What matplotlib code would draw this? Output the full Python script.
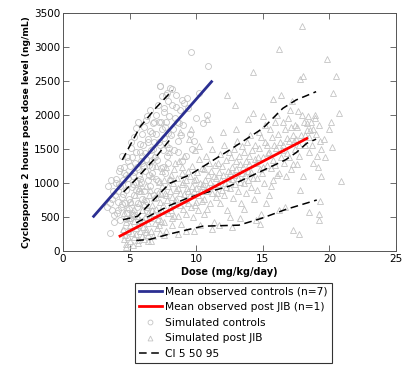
import matplotlib
matplotlib.use("Agg")
import matplotlib.pyplot as plt
from matplotlib.lines import Line2D

# ---------------- data ----------------
# Simulated controls (open circles)
ctrl_dose = [
    3.4, 3.5, 3.6, 3.7, 3.8, 3.9, 3.95, 3.5, 3.75, 3.85, 3.3, 3.65,
    4.0, 4.05, 4.1, 4.15, 4.2, 4.25, 4.3, 4.35, 4.4, 4.45,
    4.5, 4.55, 4.6, 4.65, 4.7, 4.75, 4.8, 4.85, 4.9, 4.95,
    4.1, 4.3, 4.5, 4.7, 4.9, 4.2, 4.4, 4.6, 4.8, 4.95,
    5.0, 5.05, 5.1, 5.15, 5.2, 5.25, 5.3, 5.35, 5.4, 5.45,
    5.5, 5.55, 5.6, 5.65, 5.7, 5.75, 5.8, 5.85, 5.9, 5.95,
    5.05, 5.15, 5.25, 5.35, 5.45, 5.55, 5.65, 5.75, 5.85, 5.95,
    5.1, 5.3, 5.5, 5.7, 5.9,
    6.0, 6.05, 6.1, 6.15, 6.2, 6.25, 6.3, 6.35, 6.4, 6.45,
    6.5, 6.55, 6.6, 6.65, 6.7, 6.75, 6.8, 6.85, 6.9, 6.95,
    6.05, 6.15, 6.25, 6.35, 6.45, 6.55, 6.65, 6.75, 6.85, 6.95,
    6.3, 6.7,
    7.0, 7.05, 7.1, 7.15, 7.2, 7.25, 7.3, 7.35, 7.4, 7.45,
    7.5, 7.55, 7.6, 7.65, 7.7, 7.75, 7.8, 7.85, 7.9, 7.95,
    7.05, 7.2, 7.35, 7.5, 7.65, 7.8, 7.95, 7.26, 7.6, 7.9,
    8.0, 8.1, 8.2, 8.3, 8.4, 8.5, 8.6, 8.7, 8.8, 8.9,
    8.05, 8.25, 8.45, 8.65, 8.85, 8.15, 8.55, 8.95,
    9.0, 9.2, 9.4, 9.6, 9.8, 10.0, 10.2, 10.5, 9.1, 9.5,
    9.7, 10.9, 10.8, 9.3,
]
ctrl_level = [
    950, 270, 1050, 610, 420, 820, 1000, 700, 880, 530, 640, 760,
    1060, 560, 880, 720, 1180, 450, 960, 640, 1400, 800,
    1050, 300, 1240, 700, 900, 1120, 560, 1320, 980, 760,
    610, 1220, 840, 470, 1080, 990, 690, 1150, 1380, 620,
    1250, 720, 1520, 940, 560, 1100, 1680, 830, 1300, 1010,
    1450, 640, 1200, 1900, 880, 1580, 1060, 1330, 760, 1720,
    480, 1380, 980, 1160, 1810, 1240, 700, 1460, 1020, 1290,
    1600, 520, 890, 1120, 1400,
    1560, 880, 1820, 1180, 1350, 740, 1990, 1050, 1640, 1270,
    2080, 960, 1480, 1730, 1150, 1880, 820, 1600, 1380, 2000,
    1250, 1440, 1920, 1610, 1120, 1760, 1340, 1500, 1900, 1060,
    590, 1230,
    1720, 1340, 2150, 1030, 1900, 2420, 1560, 1220, 2280, 1790,
    1480, 2050, 1660, 1150, 2300, 1900, 1400, 2200, 1740, 1980,
    880, 1610, 1890, 1240, 1820, 2320, 1520, 2420, 2100, 1300,
    2390, 1700, 2150, 1480, 1950, 2120, 1620, 1880, 2080, 1330,
    1040, 1800, 2300, 1450, 1700, 2380, 1900, 2220,
    1850, 1400, 2100, 2920, 1620, 1950, 2330, 1880, 2180, 1720,
    1500, 2716, 2000, 2250,
]

# Simulated post JIB (open triangles)
jib_dose = [
    4.5, 4.55, 4.6, 4.65, 4.7, 4.75, 4.8, 4.85, 4.9, 4.95,
    5.0, 5.05, 5.1, 5.15, 5.2, 5.25, 5.3, 5.35, 5.4, 5.45, 4.7, 5.3,
    5.5, 5.55, 5.6, 5.65, 5.7, 5.75, 5.8, 5.85, 5.9, 5.95,
    6.0, 6.05, 6.1, 6.15, 6.2, 6.25, 6.3, 6.35, 6.4, 6.45,
    5.6, 5.8, 6.0, 6.2, 6.4, 5.7, 6.1, 6.35,
    6.5, 6.55, 6.6, 6.65, 6.7, 6.75, 6.8, 6.85, 6.9, 6.95,
    7.0, 7.05, 7.1, 7.15, 7.2, 7.25, 7.3, 7.35, 7.4, 7.45,
    6.6, 6.8, 7.0, 7.2, 7.4, 6.7, 7.1, 7.35,
    7.5, 7.55, 7.6, 7.65, 7.7, 7.75, 7.8, 7.85, 7.9, 7.95,
    8.0, 8.05, 8.1, 8.15, 8.2, 8.25, 8.3, 8.35, 8.4, 8.45,
    7.6, 7.8, 8.0, 8.2, 8.4, 7.7, 8.1, 8.3,
    8.5, 8.55, 8.6, 8.65, 8.7, 8.75, 8.8, 8.85, 8.9, 8.95,
    9.0, 9.05, 9.1, 9.15, 9.2, 9.25, 9.3, 9.35, 9.4, 9.45,
    8.6, 8.8, 9.0, 9.2, 9.4, 8.95,
    9.5, 9.55, 9.6, 9.65, 9.7, 9.75, 9.8, 9.85, 9.9, 9.95,
    10.0, 10.05, 10.1, 10.15, 10.2, 10.25, 10.3, 10.35, 10.4, 10.45,
    9.6, 9.8, 10.0, 10.2, 10.4, 9.9,
    10.5, 10.55, 10.6, 10.65, 10.7, 10.75, 10.8, 10.85, 10.9, 10.95,
    11.0, 11.05, 11.1, 11.15, 11.2, 11.25, 11.3, 11.35, 11.4, 11.45,
    10.8, 11.0, 11.2, 10.6,
    11.5, 11.55, 11.6, 11.65, 11.7, 11.75, 11.8, 11.85, 11.9, 11.95,
    12.0, 12.05, 12.1, 12.15, 12.2, 12.25, 12.3, 12.35, 12.4, 12.45,
    11.7, 12.0, 12.3, 12.5,
    12.5, 12.55, 12.6, 12.65, 12.7, 12.75, 12.8, 12.85, 12.9, 12.95,
    13.0, 13.05, 13.1, 13.15, 13.2, 13.25, 13.3, 13.35, 13.4, 13.45,
    12.7, 13.0, 13.3, 12.9,
    13.5, 13.55, 13.6, 13.65, 13.7, 13.75, 13.8, 13.85, 13.9, 13.95,
    14.0, 14.05, 14.1, 14.15, 14.2, 14.25, 14.3, 14.35, 14.4, 14.45,
    13.9, 14.3, 14.5, 13.6,
    14.5, 14.6, 14.7, 14.8, 14.9, 15.0, 15.1, 15.2, 15.3, 15.4,
    14.55, 14.75, 14.95, 15.15, 15.35, 15.45, 14.65, 14.85, 15.05, 15.25,
    15.0, 14.8,
    15.5, 15.6, 15.7, 15.8, 15.9, 16.0, 16.1, 16.2, 16.3, 16.4,
    15.55, 15.75, 15.95, 16.15, 16.35, 15.65, 15.85, 16.05, 16.25, 16.45,
    15.8, 16.2,
    16.5, 16.6, 16.7, 16.8, 16.9, 17.0, 17.1, 17.2, 17.3, 17.4,
    16.55, 16.75, 16.95, 17.15, 17.35, 16.65, 16.85, 17.05, 17.25, 17.45,
    17.5, 17.6, 17.7, 17.8, 17.9, 18.0, 18.1, 18.2, 18.3, 18.4,
    17.55, 17.75, 17.95, 18.15, 18.35, 17.97, 18.0, 17.8, 18.45, 17.65,
    18.5, 18.6, 18.7, 18.8, 18.9, 19.0, 19.1, 19.2, 19.3, 19.4,
    18.55, 18.75, 18.95, 19.15, 19.35, 19.25,
    19.2, 18.5, 19.3, 17.7, 17.3,
    19.8, 20.5, 20.3, 20.7, 20.2, 20.9, 19.6, 20.0, 19.7, 20.1,
]
jib_level = [
    320, 180, 560, 240, 420, 100, 650, 300, 200, 480,
    380, 140, 720, 260, 550, 90, 440, 200, 820, 340, 60, 620,
    250, 520, 380, 160, 700, 300, 460, 880, 220, 600,
    350, 760, 180, 500, 960, 280, 640, 410, 240, 820,
    120, 1000, 450, 330, 560, 930, 690, 150,
    480, 900, 300, 680, 1100, 220, 560, 780, 410, 1250,
    620, 340, 860, 530, 1020, 260, 720, 440, 950, 590,
    150, 1400, 800, 380, 1180, 610, 470, 840,
    680, 1050, 420, 860, 300, 1240, 750, 560, 960, 1450,
    640, 880, 1120, 380, 790, 1000, 520, 700, 1300, 900,
    230, 1580, 1060, 480, 740, 820, 600, 1200,
    760, 1080, 520, 920, 1320, 680, 860, 400, 1150, 980,
    620, 840, 1400, 750, 1050, 300, 920, 1180, 700, 1650,
    250, 1750, 1010, 540, 880, 1240,
    820, 1100, 640, 960, 1250, 500, 880, 1050, 1480, 720,
    930, 1160, 600, 820, 1350, 1000, 380, 880, 1220, 740,
    1800, 290, 1060, 1550, 960, 680,
    980, 1200, 760, 1050, 1400, 880, 620, 1120, 940, 1300,
    1020, 700, 1180, 850, 1500, 960, 1100, 420, 1260, 800,
    1941, 1650, 330, 540,
    1080, 860, 1300, 980, 1160, 700, 1420, 1040, 900, 1250,
    1120, 1560, 820, 1000, 1340, 940, 600, 1180, 1070, 1460,
    380, 1750, 2299, 500,
    1150, 920, 1380, 1060, 1240, 780, 1500, 1120, 980, 1320,
    1200, 1620, 880, 1080, 1400, 1010, 1280, 700, 1150, 1550,
    360, 1800, 480, 2150,
    1240, 1000, 1460, 1120, 1320, 860, 1600, 1180, 1050, 1400,
    1280, 1700, 940, 1160, 1480, 1080, 2628, 760, 1350, 1560,
    1946, 2029, 450, 620,
    1300, 1080, 1520, 1200, 1680, 1380, 1000, 1600, 1260, 1440,
    900, 1750, 1140, 1860, 1560, 820, 1380, 550, 1240, 700,
    1980, 400,
    1450, 1220, 1680, 1340, 1900, 1520, 1120, 2970, 1600, 1380,
    1800, 1040, 1260, 1720, 2299, 960, 1560, 2000, 1150, 1480,
    2235, 600,
    1560, 1300, 1800, 1440, 1960, 1620, 1200, 2210, 1700, 1500,
    1900, 1100, 1380, 1820, 1620, 640, 1660, 2080, 1280, 1860,
    1640, 1820, 1400, 2529, 1700, 2569, 1900, 1560, 1780, 1980,
    1280, 1560, 2000, 1700, 1880, 3313, 1100, 900, 1460, 2060,
    1680, 1900, 1560, 1800, 2000, 1720, 1400, 1860, 1620, 1500,
    1780, 1300, 1950, 1240, 1100, 550,
    456, 578, 740, 250, 309,
    2828, 2569, 2323, 2029, 1534, 1034, 1650, 1800, 1380, 1900,
]

# Mean observed lines
ctrl_mean_dose = [2.3, 11.15]
ctrl_mean_level = [510, 2490]
jib_mean_dose = [4.28, 18.3]
jib_mean_level = [220, 1655]

# CI 5 50 95 curves
ci_ctrl_hi_dose = [4.45, 5.3, 5.8, 7.0, 8.2]
ci_ctrl_hi_level = [1340, 1650, 1830, 2110, 2360]
ci_ctrl_mid_dose = [4.55, 5.5, 6.8, 8.2]
ci_ctrl_mid_level = [870, 1060, 1340, 1680]
ci_jib_hi_dose = [4.5, 5.6, 8.0, 9.5, 12.5, 15.0, 16.5, 17.5, 19.0]
ci_jib_hi_level = [460, 510, 995, 1118, 1485, 1804, 2098, 2221, 2343]
ci_jib_mid_dose = [5.5, 8.0, 9.5, 12.5, 16.7, 17.5, 18.3, 19.0]
ci_jib_mid_level = [415, 670, 790, 955, 1340, 1446, 1584, 1645]
ci_jib_lo_dose = [5.5, 6.5, 8.0, 9.5, 10.5, 13.2, 14.9, 16.7, 19.05]
ci_jib_lo_level = [155, 170, 250, 320, 365, 380, 480, 610, 750]

x_ticks = [0, 5, 10, 15, 20, 25]
y_ticks = [0, 500, 1000, 1500, 2000, 2500, 3000, 3500]

# ---------------- plot ----------------
plt.rcParams['font.family'] = ['DejaVu Sans']
fig = plt.figure(figsize=(4.10, 3.65), dpi=100)
ax = fig.add_axes([0.1537, 0.3123, 0.8122, 0.6521])

grey = '#c4c4c4'
ax.plot(ctrl_dose, ctrl_level, linestyle='none', marker='o', markersize=4.3,
        markerfacecolor='none', markeredgecolor=grey, markeredgewidth=0.6)
ax.plot(jib_dose, jib_level, linestyle='none', marker='^', markersize=4.6,
        markerfacecolor='none', markeredgecolor=grey, markeredgewidth=0.6)

dash = dict(color='black', linewidth=1.1, dashes=(5, 3))
for dx, dy in [(ci_ctrl_hi_dose, ci_ctrl_hi_level), (ci_ctrl_mid_dose, ci_ctrl_mid_level),
               (ci_jib_hi_dose, ci_jib_hi_level), (ci_jib_mid_dose, ci_jib_mid_level),
               (ci_jib_lo_dose, ci_jib_lo_level)]:
    ax.plot(dx, dy, **dash)

ax.plot(ctrl_mean_dose, ctrl_mean_level, color='#2b2f92', linewidth=2)
ax.plot(jib_mean_dose, jib_mean_level, color='#ff0000', linewidth=2)

ax.set_xlim(0, 25)
ax.set_ylim(0, 3500)
ax.set_xticks(x_ticks)
ax.set_yticks(y_ticks)
ax.tick_params(direction='in', top=True, right=True, length=4, width=0.6,
               labelsize=7.5, color='#555555', pad=2)
for s in ax.spines.values():
    s.set_color('#555555')
    s.set_linewidth(0.7)

ax.set_xlabel('Dose (mg/kg/day)', fontsize=7, fontweight='bold', labelpad=2)
ax.set_ylabel('Cyclosporine 2 hours post dose level (ng/mL)', fontsize=6.6,
              fontweight='bold', labelpad=2)

handles = [
    Line2D([], [], color='#2b2f92', linewidth=2),
    Line2D([], [], color='#ff0000', linewidth=2),
    Line2D([], [], linestyle='none', marker='o', markersize=3.5,
           markerfacecolor='none', markeredgecolor=grey, markeredgewidth=0.6),
    Line2D([], [], linestyle='none', marker='^', markersize=3.5,
           markerfacecolor='none', markeredgecolor=grey, markeredgewidth=0.6),
    Line2D([], [], **dash),
]
labels = ['Mean observed controls (n=7)', 'Mean observed post JIB (n=1)',
          'Simulated controls', 'Simulated post JIB', 'CI 5 50 95']
leg = fig.legend(handles, labels, loc='upper left', bbox_to_anchor=(0.329, 0.225),
                 fontsize=7.7, frameon=True, fancybox=False, edgecolor='black',
                 handlelength=2.2, handletextpad=0.3, borderpad=0.35,
                 labelspacing=0.52, borderaxespad=0)
leg.get_frame().set_linewidth(0.8)

fig.savefig('out.png', dpi=100)
